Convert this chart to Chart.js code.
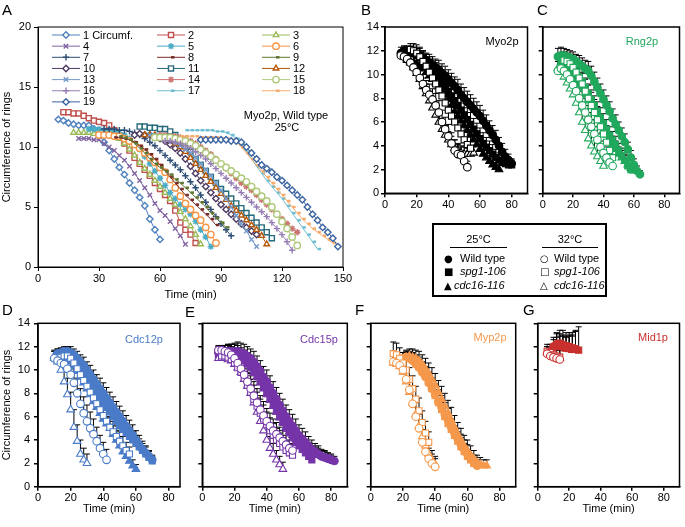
<!DOCTYPE html>
<html><head><meta charset="utf-8">
<script src="https://cdn.jsdelivr.net/npm/chart.js@4.4.1/dist/chart.umd.min.js"></script>
<style>
body{margin:0;background:#fff;width:685px;height:527px;position:relative;overflow:hidden;font-family:'Liberation Sans',Arial,sans-serif;color:#000;}
canvas{position:absolute;left:0;top:0;}
.lbl{position:absolute;font-size:15px;line-height:15px;}
#key{position:absolute;left:432px;top:223px;width:171px;height:70px;border:2px solid #000;font-size:11px;line-height:13px;}
#key div{position:absolute;white-space:nowrap;}
.ku{height:0;border-top:1.5px solid #000;}
.sym{font-family:'DejaVu Sans',sans-serif;font-size:10px;}
i{font-style:italic;}
</style></head><body>
<canvas id="cA" width="685" height="527"></canvas>
<canvas id="cB" width="685" height="527"></canvas>
<canvas id="cC" width="685" height="527"></canvas>
<canvas id="cD" width="685" height="527"></canvas>
<canvas id="cE" width="685" height="527"></canvas>
<canvas id="cF" width="685" height="527"></canvas>
<canvas id="cG" width="685" height="527"></canvas>
<div class="lbl" style="left:2px;top:2px">A</div>
<div class="lbl" style="left:361px;top:2px">B</div>
<div class="lbl" style="left:537px;top:2px">C</div>
<div class="lbl" style="left:2px;top:302px">D</div>
<div class="lbl" style="left:185px;top:304px">E</div>
<div class="lbl" style="left:355px;top:302px">F</div>
<div class="lbl" style="left:523px;top:302px">G</div>
<div id="key">
  <div style="left:16px;width:57px;top:8px;text-align:center">25°C</div>
  <div class="ku" style="left:16px;width:57px;top:22px"></div>
  <div style="left:108px;width:56px;top:8px;text-align:center">32°C</div>
  <div class="ku" style="left:108px;width:56px;top:22px"></div>
  <div class="sym" style="left:10px;top:27px">●</div><div style="left:26px;top:27px">Wild type</div>
  <div class="sym" style="left:10px;top:40px">■</div><div style="left:26px;top:40px"><i>spg1-106</i></div>
  <div class="sym" style="left:10px;top:54px">▲</div><div style="left:20px;top:54px"><i>cdc16-116</i></div>
  <div class="sym" style="left:106px;top:27px">○</div><div style="left:120px;top:27px">Wild type</div>
  <div class="sym" style="left:106px;top:40px">□</div><div style="left:120px;top:40px"><i>spg1-106</i></div>
  <div class="sym" style="left:106px;top:54px">△</div><div style="left:120px;top:54px"><i>cdc16-116</i></div>
</div>
<script>
// ---------------- Panel A data (Myo2p, wild type, 25°C; individual rings) ----------------
const aNames = ['1 Circumf.','2','3','4','5','6','7','8','9','10','11','12','13','14','15','16','17','18','19'];
const aStep = 2.5;
const aStarts = [10,12.5,17.5,20,25,30,32.5,37.5,40,47.5,50,52.5,55,60,57.5,62.5,72.5,70,80];
const a1 = [12.3,12.2,12.0,11.9,11.8,11.8,11.8,11.5,11.0,10.4,9.7,9.0,8.3,7.7,7.0,6.4,5.8,5.1,4.0,3.1,2.3];
const a2 = [12.9,12.9,12.8,12.8,12.6,12.4,12.2,12.1,12.0,11.8,11.4,10.9,10.3,9.7,9.1,8.6,8.1,7.6,7.0,6.5,6.0,5.5,4.7,3.7,3.1,2.7,2.0];
const a3 = [11.2,11.2,11.2,11.2,11.1,11.1,11.0,11.0,10.9,10.7,10.3,9.8,9.3,8.7,8.2,7.7,7.2,6.7,6.2,5.7,5.2,4.6,4.0,3.4,2.7,1.9];
const a4 = [10.7,10.7,10.7,10.6,10.6,10.3,10.0,9.7,9.3,8.9,8.4,7.8,7.2,6.6,6.0,5.3,4.7,4.3,3.8,3.2,2.6,1.9];
const a5 = [11.5,11.5,11.5,11.4,11.4,11.3,11.2,11.0,10.7,10.3,9.8,9.2,8.6,8.0,7.4,6.8,6.2,5.7,5.2,4.8,4.4,3.8,3.1,2.5,1.7];
const a6 = [11.0,11.0,11.0,10.9,10.9,10.7,10.5,10.2,9.9,9.5,9.1,8.7,8.3,7.9,7.3,6.6,5.9,5.3,4.8,4.3,3.9,3.3,2.7,2.0];
const a7 = [11.5,11.5,11.5,11.4,11.4,11.3,11.2,11.0,10.7,10.4,10.1,9.7,9.3,8.9,8.5,8.1,7.6,7.1,6.6,6.0,5.4,4.8,4.2,3.6,3.1,2.6];
const a8 = [10.8,10.8,10.7,10.6,10.4,10.1,9.8,9.4,9.0,8.5,8.0,7.5,7.0,6.5,6.0,5.6,5.2,4.8,4.4,4.0,3.5];
const a9 = [10.9,10.8,10.6,10.3,9.9,9.5,9.0,8.6,8.3,8.0,7.7,7.3,7.0,6.6,6.2,5.8,5.4,5.0,4.5,4.1,3.7,3.3];
const a10 = [11.0,11.1,11.0,11.0,10.9,10.7,10.5,10.2,9.9,9.5,9.0,8.4,7.8,7.2,6.7,6.2,5.7,5.2,4.8,4.4,4.0,3.6,3.3,3.0,2.7];
const a11 = [11.7,11.7,11.6,11.6,11.5,11.5,11.3,11.0,10.6,10.1,9.6,9.0,8.5,8.0,7.5,7.0,6.5,6.1,5.7,5.3,4.9,4.5,4.1,3.7,3.3,2.9,2.4];
const a12 = [11.0,11.0,11.0,10.9,10.8,10.6,10.3,10.0,9.6,9.1,8.6,8.1,7.6,7.1,6.6,6.1,5.6,5.1,4.7,4.3,3.9,3.5,3.1,2.6,1.9];
const a13 = [11.0,11.0,10.9,10.8,10.6,10.4,10.1,9.8,9.5,9.1,8.6,8.1,7.6,7.0,6.4,5.7,5.0,4.3,3.6,3.0,2.3,1.7];
const a14 = [11.0,11.0,10.9,10.9,10.8,10.7,10.5,10.3,10.0,9.7,9.4,9.0,8.6,8.2,7.8,7.4,7.0,6.7,6.4,6.0,5.6,5.2,4.8,4.4,4.0,3.6,3.2,2.9];
const a15 = [10.8,10.8,10.8,10.8,10.7,10.6,10.5,10.3,10.1,9.8,9.5,9.2,8.9,8.6,8.3,8.0,7.7,7.4,7.1,6.7,6.3,5.9,5.5,5.0,4.4,3.8,3.2,2.5,1.8];
const a16 = [10.5,10.5,10.4,10.3,10.1,9.9,9.6,9.3,9.0,8.6,8.2,7.8,7.4,7.0,6.6,6.2,5.8,5.4,5.0,4.6,4.2,3.7,3.2,2.7,2.1,1.4];
const a17 = [11.4,11.4,11.4,11.4,11.4,11.4,11.3,11.3,11.2,11.0,10.7,10.2,9.6,9.0,8.4,7.8,7.2,6.7,6.2,5.7,5.1,4.5,3.9,3.3,2.7,2.1,1.5];
const a18 = [10.9,10.9,10.9,10.9,10.8,10.8,10.8,10.8,10.7,10.7,10.6,10.4,10.0,9.5,9.0,8.5,8.0,7.5,7.0,6.5,6.0,5.5,5.0,4.5,4.0,3.6,3.2,2.9,2.6,2.3,2.0];
const a19 = [10.6,10.6,10.6,10.6,10.6,10.6,10.5,10.5,10.4,10.0,9.5,9.0,8.5,8.2,7.9,7.5,7.2,6.8,6.4,6.0,5.6,5.0,4.4,3.9,3.3,2.9,2.4,1.7];
const aValues = [a1,a2,a3,a4,a5,a6,a7,a8,a9,a10,a11,a12,a13,a14,a15,a16,a17,a18,a19];
const aColors = ['#4F81BD','#C0504D','#9BBB59','#8064A2','#4BACC6','#F79646','#2C4D75','#772C2A','#5F7530','#4D3B62','#276A7C','#B65708','#729ACA','#CD7371','#AFC97A','#977FB5','#6FBDD1','#F9AB6B','#3B64A0'];
const aShapes = ['rectRot','rect','triangle','crossRot','star','circle','cross','dash','dash','rectRot','rect','triangle','crossRot','star','circle','cross','dash','dash','rectRot'];
const aXTicks = [0,30,60,90,120,150];
const aYTicks = [0,5,10,15,20];

// ---------------- Panels B-G: mean ± SD, 2-min sampling ----------------
// series order in each panel: WT 25°C, spg1-106 25°C, cdc16-116 25°C, WT 32°C, spg1-106 32°C, cdc16-116 32°C
const panelStep = 2;
const strainShapes = ['circle','rect','triangle','circle','rect','triangle'];
const panelXTicks = [0,20,40,60,80];
const panelYTicks = [0,2,4,6,8,10,12,14];

const bStarts = [10,12,14,10,16,12];
const bWt25 = [11.8,11.9,11.9,11.9,11.8,11.7,11.6,11.4,11.2,11.0,10.8,10.6,10.4,10.1,9.9,9.6,9.3,9.0,8.7,8.3,8.0,7.7,7.4,7.1,6.8,6.5,6.1,5.7,5.3,4.9,4.5,4.0,3.5,3.1,2.8,2.5];
const bWt25Err = [0.5,0.5,0.4,0.4,0.5,0.5,0.6,0.6,0.6,0.7,0.7,0.7,0.8,0.8,0.8,0.8,0.8,0.8,0.9,0.9,0.9,0.9,0.9,0.9,0.9,0.9,0.9,0.9,0.8,0.8,0.8,0.7,0.7,0.6,0.5,0.4];
const bSpg25 = [12.0,12.0,11.9,11.8,11.6,11.4,11.2,11.0,10.7,10.4,10.1,9.8,9.4,9.0,8.6,8.2,7.8,7.4,7.0,6.6,6.2,5.8,5.4,5.0,4.6,4.2,3.9,3.6,3.3,3.0,2.8,2.6,2.5,2.4,2.4];
const bSpg25Err = [0.4,0.4,0.5,0.5,0.6,0.6,0.7,0.7,0.8,0.8,0.9,0.9,1.0,1.0,1.0,1.0,1.0,1.0,1.0,1.0,1.0,1.0,0.9,0.9,0.9,0.9,0.8,0.8,0.8,0.7,0.6,0.6,0.5,0.5,0.4];
const bCdc25 = [11.2,11.1,11.0,10.9,10.7,10.5,10.2,9.9,9.6,9.3,9.0,8.7,8.3,7.9,7.4,6.9,6.5,6.1,5.7,5.3,4.9,4.5,4.1,3.7,3.3,3.0,2.7,2.4,2.2,2.0];
const bCdc25Err = [0.5,0.5,0.5,0.6,0.6,0.6,0.7,0.7,0.7,0.8,0.8,0.8,0.8,0.9,0.9,0.9,0.9,0.9,0.9,0.8,0.8,0.8,0.7,0.7,0.6,0.6,0.5,0.5,0.4,0.4];
const bWt32 = [11.6,11.5,11.3,11.0,10.6,10.2,9.7,9.2,8.7,8.3,7.9,7.4,6.8,6.0,5.4,4.8,4.2,3.6,3.3,3.2,2.7,2.2];
const bWt32Err = [0.4,0.5,0.5,0.6,0.6,0.7,0.7,0.8,0.8,0.9,0.9,1.0,1.0,1.0,1.0,1.0,0.9,0.9,0.8,0.7,0.6,0.5];
const bSpg32 = [12.1,12.0,11.8,11.5,11.1,10.7,10.2,9.7,9.2,8.7,8.2,7.6,7.0,6.5,6.0,5.5,5.0,4.5,4.1,3.8];
const bSpg32Err = [0.5,0.6,0.7,0.8,0.9,1.0,1.1,1.2,1.2,1.3,1.3,1.4,1.4,1.4,1.4,1.3,1.3,1.2,1.1,1.0];
const bCdc32 = [11.5,11.3,11.0,10.6,10.1,9.6,9.0,8.4,7.8,7.2,6.6,6.0,5.4,4.9,4.5,4.1,3.8,3.6,3.4,3.3,3.3,3.3,3.4];
const bCdc32Err = [0.4,0.5,0.5,0.6,0.6,0.7,0.7,0.8,0.8,0.8,0.8,0.8,0.8,0.8,0.7,0.7,0.7,0.6,0.6,0.6,0.5,0.5,0.5];

const cStarts = [10,12,12,10,14,10];
const cWt25 = [11.5,11.6,11.6,11.5,11.4,11.3,11.1,10.9,10.7,10.5,10.3,9.9,9.4,8.9,8.4,7.9,7.4,6.9,6.3,5.8,5.3,4.8,4.3,3.7,3.0,2.4,1.9,1.6];
const cWt25Err = [0.7,0.7,0.6,0.6,0.6,0.6,0.6,0.7,0.7,0.7,0.8,0.8,0.8,0.8,0.8,0.8,0.8,0.8,0.8,0.8,0.7,0.7,0.7,0.6,0.6,0.5,0.4,0.3];
const cSpg25 = [11.2,11.1,11.0,10.8,10.5,10.2,9.8,9.4,8.9,8.4,7.9,7.4,6.9,6.4,5.9,5.4,4.9,4.5,4.1,3.6,3.2,2.8,2.3,2.0];
const cSpg25Err = [0.6,0.6,0.6,0.6,0.7,0.7,0.7,0.7,0.8,0.8,0.8,0.8,0.8,0.8,0.8,0.8,0.7,0.7,0.7,0.6,0.6,0.5,0.5,0.4];
const cCdc25 = [11.0,10.8,10.6,10.3,10.0,9.6,9.2,8.8,8.3,7.8,7.3,6.8,6.3,5.8,5.3,4.9,4.5,4.1,3.7,3.3,3.0,2.7,2.4,2.1,1.9];
const cCdc25Err = [0.6,0.6,0.6,0.7,0.7,0.7,0.8,0.8,0.8,0.8,0.8,0.8,0.8,0.8,0.8,0.8,0.7,0.7,0.7,0.6,0.6,0.5,0.5,0.4,0.4];
const cWt32 = [10.3,10.5,10.3,10.0,9.6,9.1,8.6,8.0,7.4,6.8,6.2,5.6,5.0,4.5,3.9,3.4,3.0,2.6,2.3];
const cWt32Err = [0.8,0.8,0.9,0.9,1.0,1.0,1.1,1.1,1.2,1.2,1.2,1.2,1.2,1.1,1.1,1.0,0.9,0.8,0.7];
const cSpg32 = [11.2,11.1,10.9,10.6,10.2,9.7,9.2,8.6,8.0,7.4,6.8,6.2,5.6,5.0,4.3,3.6,3.0];
const cSpg32Err = [0.7,0.7,0.8,0.8,0.9,0.9,1.0,1.0,1.1,1.1,1.1,1.1,1.0,1.0,0.9,0.9,0.8];
const cCdc32 = [10.5,10.2,9.8,9.3,8.8,8.3,7.6,6.8,6.0,5.3,4.6,4.0,3.5,3.1,2.7,2.3];
const cCdc32Err = [0.8,0.9,0.9,1.0,1.0,1.1,1.2,1.3,1.4,1.4,1.4,1.3,1.3,1.2,1.1,1.0];

const dStarts = [12,14,10,10,14,10];
const dWt25 = [11.4,11.5,11.6,11.6,11.5,11.3,11.0,10.7,10.4,10.0,9.6,9.2,8.8,8.4,8.0,7.6,7.2,6.8,6.4,6.0,5.6,5.2,4.8,4.4,4.0,3.6,3.2,2.9,2.6,2.3];
const dWt25Err = [0.4,0.4,0.4,0.4,0.5,0.5,0.6,0.6,0.7,0.7,0.8,0.8,0.8,0.9,0.9,0.9,0.9,0.9,0.9,0.9,0.9,0.9,0.9,0.9,0.8,0.8,0.7,0.6,0.5,0.4];
const dSpg25 = [11.3,11.3,11.2,11.0,10.8,10.5,10.2,9.8,9.4,9.0,8.5,8.0,7.6,7.2,6.8,6.4,6.0,5.6,5.2,4.9,4.6,4.3,4.0,3.7,3.4,3.1,2.8,2.5,2.2];
const dSpg25Err = [0.5,0.5,0.5,0.6,0.6,0.6,0.7,0.7,0.7,0.8,0.8,0.8,0.8,0.8,0.8,0.8,0.8,0.8,0.8,0.8,0.8,0.8,0.7,0.7,0.7,0.6,0.6,0.5,0.4];
const dCdc25 = [11.2,11.3,11.3,11.2,11.0,10.7,10.3,9.9,9.4,8.9,8.4,7.9,7.3,6.8,6.3,5.8,5.4,5.0,4.5,4.0,3.5,3.0,2.6,2.2,1.8,1.5];
const dCdc25Err = [0.5,0.5,0.5,0.5,0.6,0.6,0.7,0.7,0.8,0.8,0.8,0.8,0.9,0.9,0.9,0.9,0.9,0.9,0.8,0.8,0.8,0.7,0.7,0.6,0.5,0.4];
const dWt32 = [11.0,10.8,10.6,10.5,10.1,9.6,8.9,8.0,7.1,6.3,5.6,5.0,4.5,3.9,3.3,2.8,2.3];
const dWt32Err = [0.6,0.7,0.8,0.9,1.0,1.1,1.2,1.3,1.3,1.4,1.4,1.4,1.3,1.2,1.1,1.0,0.9];
const dSpg32 = [11.1,11.2,11.2,11.0,10.6,10.1,9.6,9.1,8.6,8.1,7.6,7.1,6.6,6.1,5.6,5.1,4.7,4.3,3.9,3.5,3.1,2.8];
const dSpg32Err = [0.6,0.6,0.7,0.7,0.8,0.8,0.9,0.9,1.0,1.0,1.0,1.0,1.0,1.0,1.0,0.9,0.9,0.9,0.8,0.8,0.7,0.6];
const dCdc32 = [11.0,10.7,10.0,9.0,7.9,6.6,5.1,3.9,2.8,2.3,2.0];
const dCdc32Err = [0.6,0.8,1.0,1.2,1.4,1.5,1.5,1.4,1.2,1.0,0.8];

const eStarts = [10,10,12,10,12,10];
const eWt25 = [11.5,11.6,11.6,11.6,11.6,11.6,11.6,11.5,11.4,11.2,11.0,10.7,10.3,9.9,9.4,9.0,8.5,8.0,7.5,7.0,6.5,6.0,5.6,5.2,4.8,4.4,4.1,3.8,3.5,3.2,3.0,2.8,2.6,2.5,2.4,2.3,2.2];
const eWt25Err = [0.5,0.5,0.5,0.6,0.6,0.7,0.8,0.8,0.8,0.8,0.8,0.9,0.9,0.9,0.9,1.0,1.0,1.0,1.0,1.0,1.0,1.0,1.0,1.0,1.0,0.9,0.9,0.9,0.8,0.8,0.7,0.7,0.6,0.6,0.5,0.5,0.4];
const eSpg25 = [11.3,11.4,11.4,11.4,11.3,11.3,11.2,11.0,10.8,10.5,10.2,9.8,9.4,9.0,8.5,8.0,7.5,7.0,6.5,6.0,5.5,5.0,4.6,4.2,3.8,3.5,3.2,2.9,2.6,2.3];
const eSpg25Err = [0.5,0.5,0.5,0.5,0.6,0.6,0.6,0.7,0.7,0.7,0.8,0.8,0.8,0.8,0.9,0.9,0.9,0.9,0.9,0.9,0.9,0.9,0.8,0.8,0.8,0.7,0.7,0.6,0.6,0.5];
const eCdc25 = [11.4,11.5,11.5,11.5,11.4,11.3,11.1,10.9,10.6,10.2,9.8,9.4,8.9,8.4,7.9,7.4,6.9,6.4,5.9,5.5,5.1,4.7,4.4,4.1,3.8,3.5,3.3,3.1,2.9,2.8,2.7,2.6,2.5,2.4,2.3];
const eCdc25Err = [0.6,0.6,0.7,0.7,0.8,0.8,0.8,0.8,0.9,0.9,0.9,0.9,0.9,0.9,0.9,0.9,0.9,0.9,0.9,0.9,0.8,0.8,0.8,0.8,0.8,0.7,0.7,0.7,0.6,0.6,0.6,0.5,0.5,0.5,0.4];
const eWt32 = [11.7,11.7,11.6,11.5,11.3,11.0,10.6,10.1,9.6,9.0,8.4,7.8,7.2,6.6,6.1,5.6,5.2,4.8,4.5,4.2,3.9,3.6,3.3,3.1];
const eWt32Err = [0.4,0.4,0.5,0.6,0.7,0.8,0.9,1.0,1.0,1.1,1.1,1.2,1.2,1.2,1.2,1.1,1.1,1.0,1.0,0.9,0.9,0.8,0.7,0.6];
const eSpg32 = [11.2,11.2,11.1,10.9,10.6,10.2,9.8,9.3,8.7,8.1,7.5,6.9,6.3,5.8,5.3,4.8,4.4,4.0,3.7,3.4,3.1,2.9,2.7];
const eSpg32Err = [0.5,0.6,0.6,0.7,0.8,0.9,1.0,1.0,1.1,1.1,1.2,1.2,1.2,1.2,1.1,1.1,1.0,1.0,0.9,0.8,0.8,0.7,0.6];
const eCdc32 = [11.0,11.0,11.0,10.9,10.8,10.5,10.2,9.8,9.2,8.6,8.0,7.2,6.4,5.6,4.8,4.0,3.3,2.8,2.3,1.9,1.5];
const eCdc32Err = [0.5,0.6,0.6,0.7,0.8,0.9,1.0,1.0,1.1,1.1,1.2,1.2,1.2,1.2,1.1,1.1,1.0,0.9,0.8,0.7,0.6];

const fStarts = [20,22,22,14,14,14];
const fWt25 = [11.0,11.1,11.0,10.8,10.5,10.2,9.8,9.4,8.9,8.4,7.9,7.3,6.8,6.2,5.7,5.1,4.6,4.1,3.6,3.2,2.8,2.4,2.1,1.8];
const fWt25Err = [0.5,0.5,0.6,0.6,0.7,0.7,0.8,0.8,0.9,0.9,0.9,1.0,1.0,1.0,1.0,1.0,0.9,0.9,0.9,0.8,0.8,0.7,0.6,0.5];
const fSpg25 = [11.0,11.0,10.9,10.7,10.4,10.0,9.5,9.0,8.4,7.8,7.2,6.6,6.0,5.4,4.9,4.4,3.9,3.4,3.0,2.6,2.3,2.0];
const fSpg25Err = [0.5,0.5,0.6,0.6,0.7,0.7,0.8,0.8,0.8,0.9,0.9,0.9,0.9,0.9,0.9,0.8,0.8,0.8,0.7,0.6,0.5,0.5];
const fCdc25 = [11.1,11.2,11.1,11.0,10.8,10.5,10.1,9.7,9.2,8.7,8.1,7.5,6.9,6.3,5.7,5.1,4.5,4.0,3.5,3.1,2.7,2.4,2.1,1.9,1.8,1.8];
const fCdc25Err = [0.6,0.6,0.7,0.7,0.8,0.8,0.9,0.9,1.0,1.0,1.0,1.1,1.1,1.1,1.1,1.0,1.0,1.0,0.9,0.9,0.8,0.7,0.6,0.6,0.5,0.5];
const fWt32 = [10.7,10.6,10.4,10.0,9.2,8.3,7.1,6.0,5.0,3.8,3.0,2.4,2.0,1.7];
const fWt32Err = [0.6,0.7,0.8,0.9,1.0,1.1,1.2,1.2,1.2,1.1,1.0,0.9,0.8,0.7];
const fSpg32 = [11.4,11.3,11.0,10.6,10.0,9.2,8.4,7.5,6.5,5.5,4.6,3.8];
const fSpg32Err = [1.0,1.0,0.9,0.9,1.0,1.0,1.1,1.1,1.1,1.0,1.0,0.9];
const fCdc32 = [10.6,10.5,10.3,9.8,9.0,8.1,7.2,6.2,5.2,4.3,3.5,2.8,2.3,1.9];
const fCdc32Err = [0.6,0.7,0.8,0.9,1.0,1.1,1.1,1.2,1.2,1.1,1.0,0.9,0.8,0.7];

const gStarts = [10,12,10,6,6,6];
const gWt25 = [12.0,12.2,12.1,12.0,11.9,11.9,11.8,11.8];
const gWt25Err = [0.8,0.9,1.0,1.0,1.0,1.1,1.2,1.5];
const gSpg25 = [12.2,12.3,12.2,12.1,12.0,11.9,11.8,11.7];
const gSpg25Err = [1.0,1.1,1.2,1.1,1.2,1.3,1.6,2.0];
const gCdc25 = [11.9,12.0,12.0,11.9,11.8,11.8,11.7];
const gCdc25Err = [0.7,0.8,0.9,1.0,1.0,1.1,1.2];
const gWt32 = [11.4,11.2,11.1,11.0,10.9];
const gWt32Err = [0.6,0.6,0.7,0.7,0.8];
const gSpg32 = [11.6,11.5,11.3,11.2,11.1];
const gSpg32Err = [0.6,0.7,0.7,0.8,0.8];
const gCdc32 = [11.5,11.3,11.2,11.1,11.0];
const gCdc32Err = [0.5,0.6,0.6,0.7,0.7];

// ---------------- rendering ----------------
Chart.defaults.font.family = "'Liberation Sans', Arial, sans-serif";
Chart.defaults.font.size = 11;
Chart.defaults.color = '#000';
Chart.defaults.animation = false;
Chart.defaults.events = [];
Chart.defaults.plugins.legend.display = false;
Chart.defaults.plugins.tooltip.enabled = false;

const framePlugin = {
  id: 'frame',
  beforeDatasetsDraw(chart) {
    const ctx = chart.ctx, xs = chart.scales.x, ys = chart.scales.y;
    ctx.save();
    ctx.strokeStyle = '#000'; ctx.lineWidth = 1;
    chart.data.datasets.forEach(ds => {
      if (!ds.err) return;
      ds.data.forEach((p, j) => {
        const x = xs.getPixelForValue(p.x);
        const y0 = ys.getPixelForValue(p.y);
        const y1 = ys.getPixelForValue(p.y + ds.err[j]);
        ctx.beginPath();
        ctx.moveTo(x, y0); ctx.lineTo(x, y1);
        ctx.moveTo(x - 3, y1); ctx.lineTo(x + 3, y1);
        ctx.stroke();
      });
    });
    ctx.restore();
  },
  afterDraw(chart, args, opts) {
    const ctx = chart.ctx, a = chart.chartArea;
    ctx.save();
    ctx.strokeStyle = '#000'; ctx.lineWidth = opts.lw || 1.5;
    ctx.strokeRect(a.left, a.top, a.right - a.left, a.bottom - a.top);
    if (opts.notes) {
      ctx.textAlign = 'center'; ctx.textBaseline = 'middle';
      ctx.font = "11px 'Liberation Sans', Arial, sans-serif";
      opts.notes.forEach(n => { ctx.fillStyle = n.color; ctx.fillText(n.text, n.x, n.y); });
    }
    ctx.restore();
  }
};

const aLegendPlugin = {
  id: 'aLegend',
  afterDraw(chart) {
    const ctx = chart.ctx;
    const colX = [52, 157, 262], rowY0 = 35, rowH = 11.15;
    ctx.save();
    ctx.font = "11px 'Liberation Sans', Arial, sans-serif";
    ctx.textBaseline = 'middle'; ctx.textAlign = 'left';
    chart.data.datasets.forEach((ds, i) => {
      const x0 = colX[i % 3], y = rowY0 + Math.floor(i / 3) * rowH;
      ctx.strokeStyle = ds.borderColor; ctx.lineWidth = 1;
      ctx.beginPath(); ctx.moveTo(x0, y); ctx.lineTo(x0 + 28, y); ctx.stroke();
      ctx.fillStyle = ds.pointBackgroundColor; ctx.strokeStyle = ds.pointBorderColor;
      ctx.lineWidth = ds.pointBorderWidth;
      Chart.helpers.drawPoint(ctx, {pointStyle: ds.pointStyle, radius: ds.pointRadius, rotation: 0, borderWidth: ds.pointBorderWidth}, x0 + 14, y);
      ctx.fillStyle = '#000';
      ctx.fillText(ds.label, x0 + 31, y + 0.5);
    });
    ctx.restore();
  }
};

function axis(opts) {
  return {
    type: 'linear', min: opts.min, max: opts.max,
    afterBuildTicks: s => { s.ticks = opts.ticks.map(v => ({value: v})); },
    afterFit: s => {
      if (opts.horiz) s.height = opts.size; else s.width = opts.size;
      s.paddingLeft = 0; s.paddingRight = 0; s.paddingTop = 0; s.paddingBottom = 0;
    },
    ticks: {color: '#000', font: {size: 11}, padding: opts.pad, autoSkip: false, maxRotation: 0,
            callback: opts.labels ? (v => String(v)) : (() => '')},
    grid: {display: true, drawOnChartArea: false, drawTicks: true, tickLength: 4, color: '#000', lineWidth: opts.lw},
    border: {display: true, color: '#000', width: opts.lw},
    title: {display: !!opts.title, text: opts.title || '', color: '#000', font: {size: 11}, padding: 0}
  };
}

function make(id, area, datasets, xo, yo, frameOpts, extraPlugins) {
  return new Chart(document.getElementById(id), {
    type: 'scatter',
    data: {datasets},
    options: {
      responsive: false, maintainAspectRatio: false,
      layout: {padding: {left: area.l - area.yW, top: area.t, right: 685 - area.r, bottom: 527 - area.b - area.xH}},
      scales: {x: axis(Object.assign({horiz: true, size: area.xH}, xo)), y: axis(Object.assign({horiz: false, size: area.yW}, yo))},
      plugins: {frame: frameOpts}
    },
    plugins: [framePlugin].concat(extraPlugins || [])
  });
}

// Panel A
const hollow = {rectRot: 1, rect: 1, triangle: 1, circle: 1};
const aDatasets = aValues.map((vals, i) => ({
  label: aNames[i],
  data: vals.map((v, j) => ({x: aStarts[i] + j * aStep, y: v})),
  showLine: true,
  borderColor: aColors[i], borderWidth: 1,
  pointStyle: aShapes[i],
  pointRadius: aShapes[i] === 'dash' ? 3.5 : (aShapes[i] === 'rect' ? 3.6 : 3.2),
  pointBorderColor: aColors[i],
  pointBackgroundColor: hollow[aShapes[i]] ? '#fff' : aColors[i],
  pointBorderWidth: aShapes[i] === 'dash' ? 2.5 : 1.4,
  order: 19 - i
}));
make('cA', {l: 38, t: 27, r: 343, b: 267, yW: 38, xH: 35}, aDatasets,
  {min: 0, max: 150, ticks: aXTicks, labels: true, pad: 1, lw: 1, title: 'Time (min)'},
  {min: 0, max: 20, ticks: aYTicks, labels: true, pad: 3, lw: 1, title: 'Circumference of rings'},
  {lw: 1, notes: [{text: 'Myo2p, Wild type', x: 286, y: 116, color: '#000'}, {text: '25°C', x: 287, y: 128, color: '#000'}]},
  [aLegendPlugin]);

function strainSets(color, starts, vals, errs) {
  return vals.map((v, k) => ({
    data: v.map((y, j) => ({x: starts[k] + j * panelStep, y: y})),
    err: errs[k],
    showLine: false,
    pointStyle: strainShapes[k],
    pointRadius: strainShapes[k] === 'rect' ? 4.3 : (strainShapes[k] === 'triangle' ? 4.4 : 3.8),
    pointBorderWidth: 1.1,
    pointBorderColor: color,
    pointBackgroundColor: k < 3 ? color : '#fff',
    order: k < 3 ? 2 : 1
  }));
}

const topRow = {t: 27, b: 193.3, xH: 20};
const botRow = {t: 323.3, b: 486.7, xH: 29};

make('cB', Object.assign({l: 385, r: 527.5, yW: 30}, topRow),
  strainSets('#000', bStarts, [bWt25, bSpg25, bCdc25, bWt32, bSpg32, bCdc32], [bWt25Err, bSpg25Err, bCdc25Err, bWt32Err, bSpg32Err, bCdc32Err]),
  {min: 0, max: 90, ticks: panelXTicks, labels: true, pad: 1, lw: 1.5},
  {min: 0, max: 14, ticks: panelYTicks, labels: true, pad: 2, lw: 1.5},
  {lw: 1.5, notes: [{text: 'Myo2p', x: 502, y: 42, color: '#000'}]});

const cGreen = '#20A85C';
make('cC', Object.assign({l: 542.7, r: 684.3, yW: 5}, topRow),
  strainSets(cGreen, cStarts, [cWt25, cSpg25, cCdc25, cWt32, cSpg32, cCdc32], [cWt25Err, cSpg25Err, cCdc25Err, cWt32Err, cSpg32Err, cCdc32Err]),
  {min: 0, max: 90, ticks: panelXTicks, labels: true, pad: 1, lw: 1.5},
  {min: 0, max: 14, ticks: panelYTicks, labels: false, pad: 0, lw: 1.5},
  {lw: 1.5, notes: [{text: 'Rng2p', x: 642, y: 42, color: cGreen}]});

const dBlue = '#4A7BC8';
make('cD', Object.assign({l: 38, r: 180, yW: 38}, botRow),
  strainSets(dBlue, dStarts, [dWt25, dSpg25, dCdc25, dWt32, dSpg32, dCdc32], [dWt25Err, dSpg25Err, dCdc25Err, dWt32Err, dSpg32Err, dCdc32Err]),
  {min: 0, max: 87, ticks: panelXTicks, labels: true, pad: 1, lw: 1.5, title: 'Time (min)'},
  {min: 0, max: 14, ticks: panelYTicks, labels: true, pad: 4, lw: 1.5, title: 'Circumference of rings'},
  {lw: 1.5, notes: [{text: 'Cdc12p', x: 144, y: 340, color: dBlue}]});

const ePurple = '#7535A8';
make('cE', Object.assign({l: 202.3, r: 347.3, yW: 5}, botRow),
  strainSets(ePurple, eStarts, [eWt25, eSpg25, eCdc25, eWt32, eSpg32, eCdc32], [eWt25Err, eSpg25Err, eCdc25Err, eWt32Err, eSpg32Err, eCdc32Err]),
  {min: 0, max: 90, ticks: panelXTicks, labels: true, pad: 1, lw: 1.5, title: 'Time (min)'},
  {min: 0, max: 14, ticks: panelYTicks, labels: false, pad: 0, lw: 1.5},
  {lw: 1.5, notes: [{text: 'Cdc15p', x: 319, y: 340, color: ePurple}]});

const fOrange = '#F5984B';
make('cF', Object.assign({l: 370.7, r: 515.7, yW: 5}, botRow),
  strainSets(fOrange, fStarts, [fWt25, fSpg25, fCdc25, fWt32, fSpg32, fCdc32], [fWt25Err, fSpg25Err, fCdc25Err, fWt32Err, fSpg32Err, fCdc32Err]),
  {min: 0, max: 90, ticks: panelXTicks, labels: true, pad: 1, lw: 1.5, title: 'Time (min)'},
  {min: 0, max: 14, ticks: panelYTicks, labels: false, pad: 0, lw: 1.5},
  {lw: 1.5, notes: [{text: 'Myp2p', x: 490, y: 338, color: fOrange}]});

const gRed = '#C8312E';
make('cG', Object.assign({l: 537.7, r: 683, yW: 5}, botRow),
  strainSets(gRed, gStarts, [gWt25, gSpg25, gCdc25, gWt32, gSpg32, gCdc32], [gWt25Err, gSpg25Err, gCdc25Err, gWt32Err, gSpg32Err, gCdc32Err]),
  {min: 0, max: 90, ticks: panelXTicks, labels: true, pad: 1, lw: 1.5, title: 'Time (min)'},
  {min: 0, max: 14, ticks: panelYTicks, labels: false, pad: 0, lw: 1.5},
  {lw: 1.5, notes: [{text: 'Mid1p', x: 653, y: 338, color: gRed}]});
</script>
</body></html>
